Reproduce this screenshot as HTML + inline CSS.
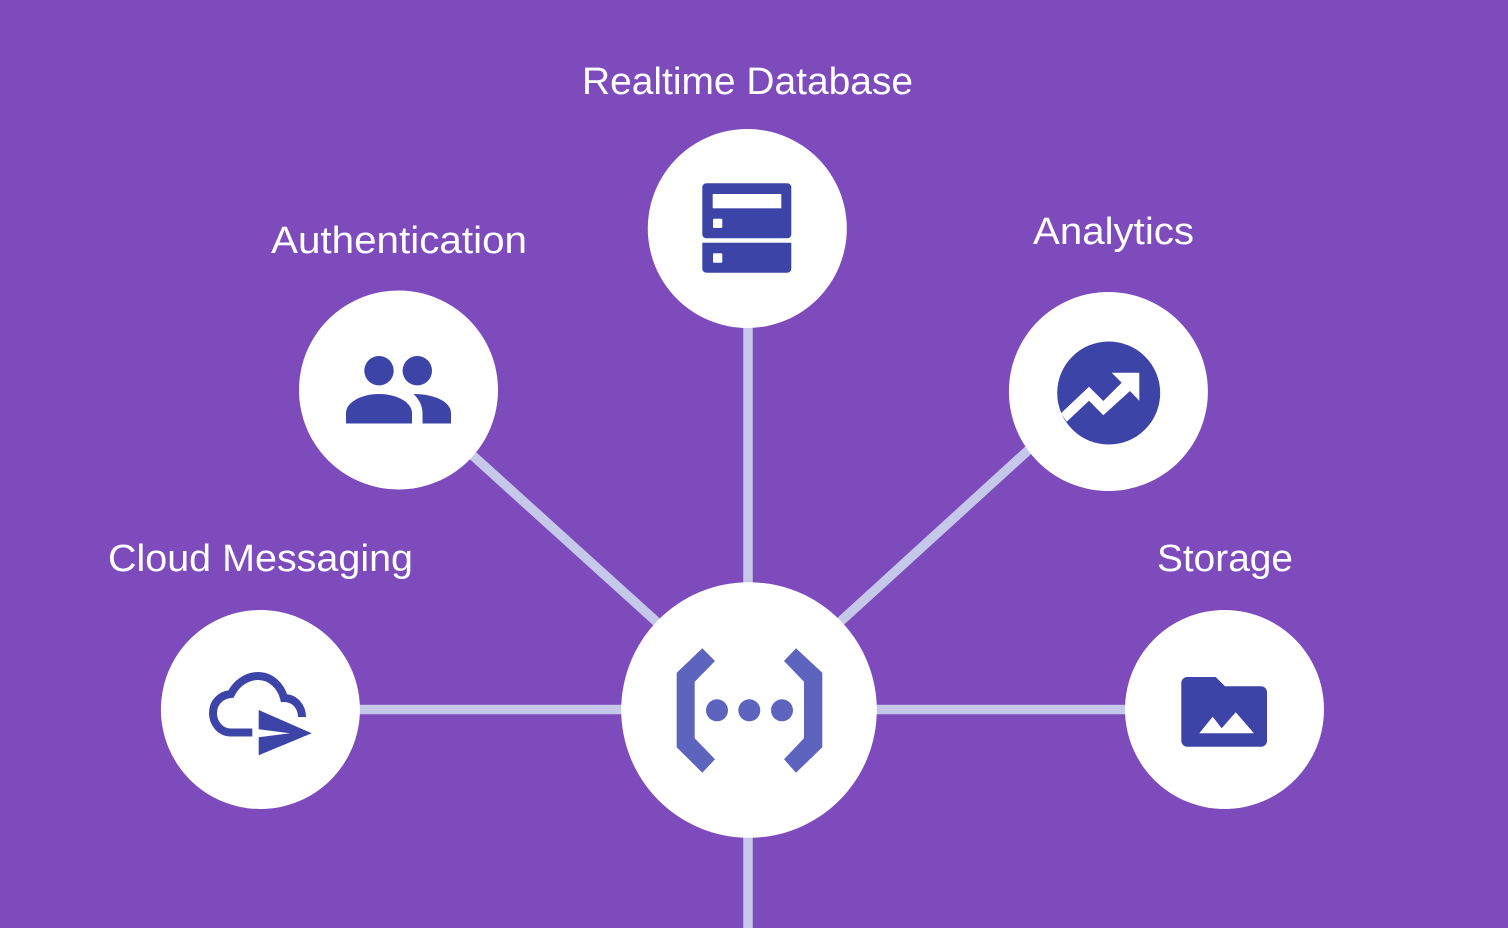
<!DOCTYPE html>
<html><head><meta charset="utf-8"><style>
html,body{margin:0;padding:0;background:#7e4bbd}
svg{display:block}
text{font-family:"Liberation Sans",sans-serif;font-size:38px;fill:#fff}
</style></head><body>
<svg width="1508" height="928" viewBox="0 0 1508 928" xmlns="http://www.w3.org/2000/svg">
<rect width="1508" height="928" fill="#7e4bbd"/>
<g stroke="#c5c8e9" stroke-width="9.5" fill="none">
<line x1="748" y1="300" x2="748" y2="928"/>
<line x1="340" y1="709.5" x2="1160" y2="709.5"/>
<line x1="460" y1="444" x2="670" y2="634"/>
<line x1="1040" y1="439.5" x2="830" y2="631"/>
</g>
<g fill="#fff">
<circle cx="747.3" cy="228.5" r="99.5"/>
<circle cx="398.5" cy="390" r="99.5"/>
<circle cx="1108.4" cy="391.5" r="99.5"/>
<circle cx="260.4" cy="709.5" r="99.5"/>
<circle cx="1224.5" cy="709.5" r="99.5"/>
<circle cx="749" cy="710" r="127.8"/>
</g>
<text x="582" y="94" textLength="331" lengthAdjust="spacingAndGlyphs">Realtime Database</text>
<text x="271" y="253" textLength="256" lengthAdjust="spacingAndGlyphs">Authentication</text>
<text x="1033" y="244" textLength="161" lengthAdjust="spacingAndGlyphs">Analytics</text>
<text x="108" y="571" textLength="305" lengthAdjust="spacingAndGlyphs">Cloud Messaging</text>
<text x="1157" y="571" textLength="136" lengthAdjust="spacingAndGlyphs">Storage</text>
<!-- functions -->
<g fill="#5c64bd">
<polygon points="702.3,648.3 715,661 694.7,681.7 694.7,738.3 715,759.3 702.3,772.7 676.7,747.3 676.7,672.7"/>
<polygon points="796,648.3 784,661 804,681.7 804,738.3 784,759.3 796,772.7 822.3,747.3 822.3,672.7"/>
<circle cx="717" cy="710.3" r="11"/>
<circle cx="749.3" cy="710.3" r="11"/>
<circle cx="782" cy="710.3" r="11"/>
</g>
<g fill="#3d44a8">
<!-- database -->
<path d="M706.3 183.3H787.3a4 4 0 0 1 4 4V234.3a4 4 0 0 1-4 4H706.3a4 4 0 0 1-4-4V187.3a4 4 0 0 1 4-4Z"/>
<path d="M702.3 242.7H791.3V268.7a4 4 0 0 1-4 4H706.3a4 4 0 0 1-4-4Z"/>
<!-- people -->
<circle cx="379" cy="370.7" r="14.7"/>
<circle cx="417.3" cy="370.7" r="14.7"/>
<path d="M346 423.5V413C346 402 362 394 379 394C396 394 412 402 412 413V423.5Z"/>
<path d="M413.5 394C435 394 451 402 451 413V423.5H422.5V413C422.5 406 419 399 413.5 394Z"/>
<!-- analytics -->
<circle cx="1108.7" cy="393" r="51.5"/>
<!-- folder -->
<path d="M1187 677H1215.7L1225 686.3H1261a6 6 0 0 1 6 6V740.7a6 6 0 0 1-6 6H1187.3a6 6 0 0 1-6-6V683a6 6 0 0 1 6-6Z"/>
<!-- plane -->
<polygon points="258.7,710 311.7,733.3 258.7,755.3 258.7,737.3 290,733.3 258.7,729.3"/>
</g>
<path d="M252.3 732.5H231C220 732.5 213 723 213 713C213 703 220 695 231 694C236 684 246 676 258 676C271 676 281 686 284 698C295 698 302 707 302 717" fill="none" stroke="#3d44a8" stroke-width="8"/>
<g fill="#fff">
<rect x="712.7" y="194" width="68.6" height="14.3"/>
<rect x="713" y="218.7" width="9.3" height="9.3" rx="1"/>
<rect x="713" y="253.3" width="9.3" height="9.4" rx="1"/>
<polygon points="1111.7,372.7 1139.3,372.7 1139.3,400.7 1130,391 1103.3,415.3 1089,400.7 1066.7,421.7 1061,413.3 1089,386.7 1103.3,401 1121.7,382.7"/>
<polygon points="1199.3,733.3 1212.7,716.7 1221.7,728.3 1235.7,712.3 1254,733.3"/>
</g>
</svg>
</body></html>
